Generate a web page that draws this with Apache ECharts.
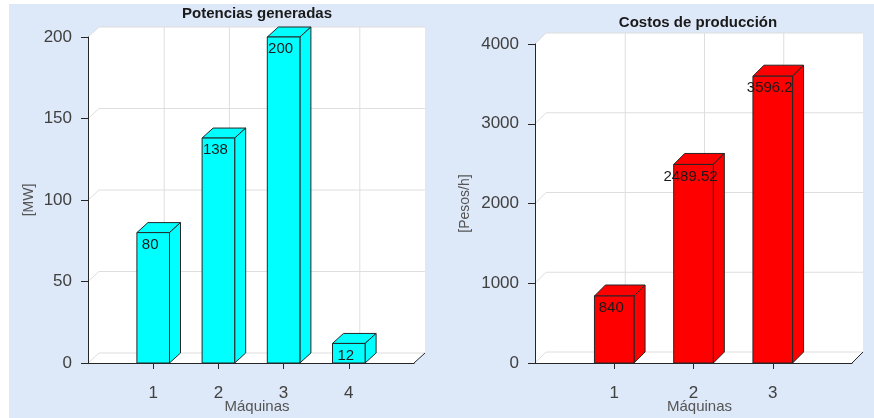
<!DOCTYPE html>
<html>
<head>
<meta charset="utf-8">
<script src="https://cdn.jsdelivr.net/npm/echarts@6/dist/echarts.min.js"></script>
<style>
  html, body { margin: 0; padding: 0; background: #ffffff; }
  #panel { position: absolute; left: 9px; top: 4px; right: 0; bottom: 0; background: #dde8f8; }
  #chart { position: absolute; left: 0; top: 0; width: 874px; height: 418px; }
</style>
</head>
<body>
<div id="panel"></div>
<div id="chart"></div>
<script>
// Power generated per machine [MW]
const maquinasP = [1, 2, 3, 4];
const potencias = [80, 138, 200, 12];
const ticksP = [0, 50, 100, 150, 200];

// Production cost per machine [Pesos/h]
const maquinasC = [1, 2, 3];
const costos = [840, 2489.52, 3596.2];
const ticksC = [0, 1000, 2000, 3000, 4000];

const FONT = '"Liberation Sans", Arial, sans-serif';
const AXIS = '#262626';
const GRID = '#dedede';
const HALF = 0.25; // half bar width in category units

// Back wall, side wall and floor of the 3-D box, offset by depth (dx, dy)
function boxItem(xMax, yMax, yTicks, xCats, dx, dy) {
  return function (params, api) {
    const c = (x, y) => api.coord([x, y]);
    const o = p => [p[0] + dx, p[1] + dy];
    const ftl = c(0, yMax), fbl = c(0, 0), fbr = c(xMax, 0), ftr = c(xMax, yMax);
    const kids = [{
      type: 'polygon',
      shape: { points: [ftl, o(ftl), o(ftr), o(fbr), fbr, fbl] },
      style: { fill: '#ffffff' }
    }];
    yTicks.forEach(t => {
      const a = c(0, t), b = c(xMax, t);
      kids.push({ type: 'polyline', shape: { points: [a, o(a), o(b)] },
        style: { stroke: GRID, lineWidth: 1, fill: null } });
    });
    xCats.forEach(x => {
      const a = o(c(x, 0)), b = o(c(x, yMax));
      kids.push({ type: 'line', shape: { x1: a[0], y1: a[1], x2: b[0], y2: b[1] },
        style: { stroke: GRID, lineWidth: 1 } });
    });
    const e = o(fbr);
    kids.push({ type: 'line', shape: { x1: fbr[0], y1: fbr[1], x2: e[0], y2: e[1] },
      style: { stroke: AXIS, lineWidth: 1 } });
    return { type: 'group', children: kids };
  };
}

// One 3-D bar: front, top and right faces plus its value label
function barItem(color, dx, dy) {
  return function (params, api) {
    const x = api.value(0), v = api.value(1);
    const fl = api.coord([x - HALF, v]), fr = api.coord([x + HALF, v]);
    const bl = api.coord([x - HALF, 0]), br = api.coord([x + HALF, 0]);
    const o = p => [p[0] + dx, p[1] + dy];
    const style = { fill: color, stroke: AXIS, lineWidth: 1 };
    const c = api.coord([x, v]);
    return {
      type: 'group',
      children: [
        { type: 'polygon', shape: { points: [fl, fr, o(fr), o(fl)] }, style },
        { type: 'polygon', shape: { points: [fr, o(fr), o(br), br] }, style },
        { type: 'polygon', shape: { points: [fl, fr, br, bl] }, style },
        { type: 'text', x: c[0] - 3, y: c[1] + 12,
          style: { text: String(v), align: 'center', verticalAlign: 'middle',
                   font: '15px ' + FONT, fill: '#1a1a1a' } }
      ]
    };
  };
}

function yAxisOf(grid, max, step, name, gap) {
  return {
    gridIndex: grid, type: 'value', min: 0, max: max, interval: step, z: 10,
    name: name, nameLocation: 'middle', nameGap: gap, nameRotate: 90,
    nameTextStyle: { fontFamily: FONT, fontSize: 14, color: '#555555' },
    axisLine: { show: true, lineStyle: { color: AXIS, width: 1 } },
    axisTick: { show: true, inside: false, length: 7, lineStyle: { color: AXIS } },
    axisLabel: { fontFamily: FONT, fontSize: 17, color: '#404040', margin: 16,
                 formatter: v => String(v) },
    splitLine: { show: false }
  };
}

function xAxisOf(grid, max, cats) {
  return {
    gridIndex: grid, type: 'value', min: 0, max: max, interval: 1, z: 10,
    name: 'Máquinas', nameLocation: 'middle', nameGap: 36, nameMoveOverlap: false,
    nameTextStyle: { fontFamily: FONT, fontSize: 15, color: '#555555', padding: [0, 0, 0, 12] },
    axisLine: { show: true, onZero: false, lineStyle: { color: AXIS, width: 1 } },
    axisTick: { show: true, inside: false, length: 6, customValues: cats, lineStyle: { color: AXIS } },
    axisLabel: { fontFamily: FONT, fontSize: 17, color: '#404040', margin: 22, customValues: cats,
                 formatter: v => String(v) },
    splitLine: { show: false }
  };
}

const chart = echarts.init(document.getElementById('chart'), null, { renderer: 'canvas' });
chart.setOption({
  animation: false,
  backgroundColor: 'transparent',
  graphic: [
    { type: 'text', x: 257, y: 14, z: 20,
      style: { text: 'Potencias generadas', align: 'center', verticalAlign: 'middle',
               font: 'bold 15px ' + FONT, fill: '#1a1a1a' } },
    { type: 'text', x: 698, y: 23, z: 20,
      style: { text: 'Costos de producción', align: 'center', verticalAlign: 'middle',
               font: 'bold 15px ' + FONT, fill: '#1a1a1a' } }
  ],
  grid: [
    { left: 88, top: 37, width: 326, height: 326, containLabel: false, outerBoundsMode: 'none' },
    { left: 535, top: 44, width: 317, height: 319, containLabel: false, outerBoundsMode: 'none' }
  ],
  xAxis: [xAxisOf(0, 5, maquinasP), xAxisOf(1, 4, maquinasC)],
  yAxis: [yAxisOf(0, 200, 50, '[MW]', 52), yAxisOf(1, 4000, 1000, '[Pesos/h]', 63)],
  series: [
    { type: 'custom', xAxisIndex: 0, yAxisIndex: 0, z: 1, silent: true, clip: false,
      renderItem: boxItem(5, 200, ticksP, maquinasP, 11, -10), data: [[0, 0]] },
    { type: 'custom', xAxisIndex: 1, yAxisIndex: 1, z: 1, silent: true, clip: false,
      renderItem: boxItem(4, 4000, ticksC, maquinasC, 11, -11), data: [[0, 0]] },
    { type: 'custom', xAxisIndex: 0, yAxisIndex: 0, z: 3, clip: false,
      renderItem: barItem('#00ffff', 11, -10),
      data: maquinasP.map((m, i) => [m, potencias[i]]) },
    { type: 'custom', xAxisIndex: 1, yAxisIndex: 1, z: 3, clip: false,
      renderItem: barItem('#ff0000', 11, -11),
      data: maquinasC.map((m, i) => [m, costos[i]]) }
  ]
});
</script>
</body>
</html>
